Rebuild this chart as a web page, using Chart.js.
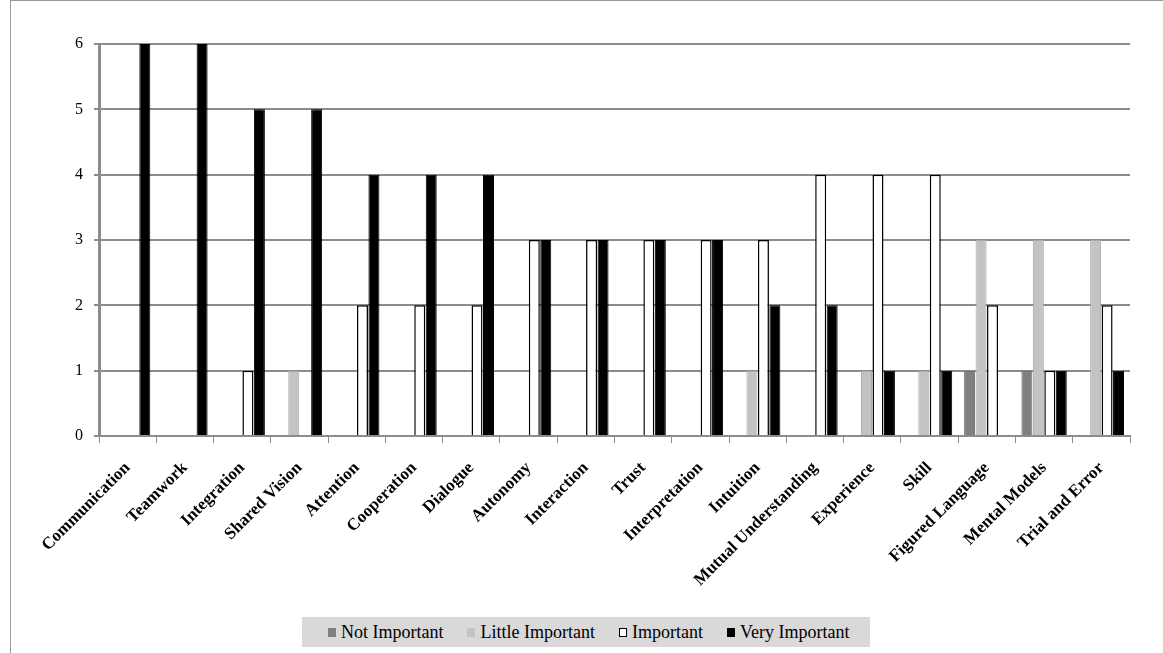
<!DOCTYPE html>
<html lang="en">
  <head>
    <meta charset="UTF-8" />
    <title>Importance ratings</title>
    <script src="https://cdn.jsdelivr.net/npm/chart.js@4/dist/chart.umd.min.js"></script>
    <style>
      html, body { margin: 0; padding: 0; background: #fff; }
      .wrap {
        position: absolute; left: 10px; top: 0;
        width: 1153px; height: 653px;
        border-left: 1px solid #9a9a9a; border-top: 1px solid #9a9a9a;
        box-sizing: border-box;
      }
      .legend {
        position: absolute; left: 302px; top: 617px;
        width: 568px; height: 30px;
        background: #d9d9d9;
        display: flex; align-items: center;
        padding-left: 26px; box-sizing: border-box;
        font-family: 'Liberation Serif', 'Times New Roman', serif;
        font-size: 18px;
        color: #000;
      }
      .legend .item { display: flex; align-items: center; margin-right: 24px; white-space: nowrap; }
      .legend .box { width: 8px; height: 9px; margin-right: 5px; box-sizing: border-box; }
    </style>
  </head>
  <body>
    <div class="wrap"><canvas id="chart"></canvas></div>
    <div class="legend" id="legend"></div>

    <script>
      // categories and counts
      const categories = [
        "Communication", "Teamwork", "Integration", "Shared Vision", "Attention",
        "Cooperation", "Dialogue", "Autonomy", "Interaction", "Trust",
        "Interpretation", "Intuition", "Mutual Understanding", "Experience",
        "Skill", "Figured Language", "Mental Models", "Trial and Error"
      ];
      const notImportant    = [0, 0, 0, 0, 0, 0, 0, 0, 0, 0, 0, 0, 0, 0, 0, 1, 1, 0];
      const littleImportant = [0, 0, 0, 1, 0, 0, 0, 0, 0, 0, 0, 1, 0, 1, 1, 3, 3, 3];
      const important       = [0, 0, 1, 0, 2, 2, 2, 3, 3, 3, 3, 3, 4, 4, 4, 2, 1, 2];
      const veryImportant   = [6, 6, 5, 5, 4, 4, 4, 3, 3, 3, 3, 2, 2, 1, 1, 0, 1, 1];
      const yTicks = [0, 1, 2, 3, 4, 5, 6];

      const serif = "'Liberation Serif', 'Times New Roman', serif";

      const ctx = document.getElementById("chart").getContext("2d");
      const chart = new Chart(ctx, {
        type: "bar",
        data: {
          labels: categories,
          datasets: [
            { label: "Not Important", data: notImportant, backgroundColor: "#808080", borderColor: "#6a6a6a", borderWidth: 1 },
            { label: "Little Important", data: littleImportant, backgroundColor: "#c3c3c3", borderColor: "#ababab", borderWidth: 1 },
            { label: "Important", data: important, backgroundColor: "#ffffff", borderColor: "#000", borderWidth: 1.5 },
            { label: "Very Important", data: veryImportant, backgroundColor: "#000000", borderColor: "#000", borderWidth: 1 }
          ]
        },
        options: {
          responsive: true,
          maintainAspectRatio: false,
          animation: false,
          layout: { padding: { top: 43, right: 33, bottom: 37, left: 0 } },
          datasets: { bar: { categoryPercentage: 0.8, barPercentage: 0.96 } },
          scales: {
            x: {
              grid: { display: true, drawOnChartArea: false, drawTicks: true, tickLength: 7, color: "#8c8c8c", offset: true },
              border: { display: true, color: "#8c8c8c", width: 2 },
              ticks: {
                color: "#000",
                font: { family: serif, size: 17, weight: "bold" },
                minRotation: 45, maxRotation: 45, autoSkip: false, padding: 15
              },
              afterFit(scale) { scale.height = 180; }
            },
            y: {
              min: 0, max: 6,
              afterBuildTicks(scale) { scale.ticks = yTicks.map(v => ({ value: v })); },
              grid: { color: "#8c8c8c", lineWidth: 2, tickLength: 5 },
              border: { display: true, color: "#8c8c8c", width: 3 },
              ticks: {
                color: "#000",
                font: { family: serif, size: 16 },
                padding: 11
              },
              afterFit(scale) { scale.width = 88; }
            }
          },
          plugins: {
            legend: { display: false },
            tooltip: { enabled: false }
          }
        }
      });

      // legend as html, coloured from the datasets
      const legendEl = document.getElementById("legend");
      chart.data.datasets.forEach(ds => {
        const item = document.createElement("span");
        item.className = "item";
        const box = document.createElement("span");
        box.className = "box";
        box.style.background = ds.backgroundColor;
        if (ds.backgroundColor === "#ffffff") box.style.border = "1px solid #000";
        item.appendChild(box);
        item.appendChild(document.createTextNode(ds.label));
        legendEl.appendChild(item);
      });
    </script>
  </body>
</html>
